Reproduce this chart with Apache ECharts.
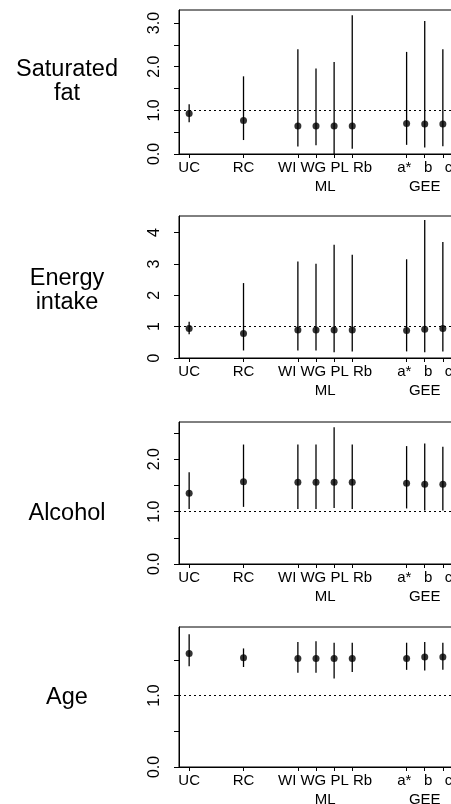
<!DOCTYPE html>
<html>
<head>
<meta charset="utf-8">
<script src="https://cdn.jsdelivr.net/npm/echarts@6/dist/echarts.min.js"></script>
<style>html,body{margin:0;padding:0;background:#fff;}#c{width:451px;height:804px;}</style>
</head>
<body>
<div id="c"></div>
<script>
// ---- data ----
const categories = ['UC', 'RC', 'WI', 'WG', 'PL', 'Rb', 'a*', 'b', 'c'];
const positions = [1, 4, 7, 8, 9, 10, 13, 14, 15];
// axis label rows (the original centres each method group under one label)
const xLabelPositions = [1, 4, 8.5, 14];
const xLabelTexts = ['UC', 'RC', 'WI WG PL Rb', 'a*   b   c'];
const xGroupTexts = ['', '', 'ML', 'GEE'];
const panelTitles = ['Saturated\nfat', 'Energy\nintake', 'Alcohol', 'Age'];

const satFatEst  = [0.93, 0.77, 0.64, 0.64, 0.64, 0.64, 0.70, 0.69, 0.69];
const satFatLow  = [0.73, 0.32, 0.17, 0.20, 0.00, 0.12, 0.21, 0.15, 0.18];
const satFatHigh = [1.14, 1.78, 2.40, 1.96, 2.11, 3.18, 2.34, 3.05, 2.40];

const energyEst  = [0.94, 0.78, 0.89, 0.89, 0.89, 0.89, 0.88, 0.92, 0.94];
const energyLow  = [0.76, 0.24, 0.24, 0.24, 0.18, 0.21, 0.21, 0.18, 0.21];
const energyHigh = [1.16, 2.39, 3.08, 3.01, 3.61, 3.29, 3.15, 4.40, 3.70];

const alcoholEst  = [1.35, 1.57, 1.56, 1.56, 1.56, 1.56, 1.54, 1.52, 1.52];
const alcoholLow  = [1.05, 1.09, 1.05, 1.05, 1.07, 1.05, 1.06, 1.02, 1.02];
const alcoholHigh = [1.75, 2.28, 2.28, 2.28, 2.61, 2.28, 2.25, 2.30, 2.24];

const ageEst  = [1.59, 1.53, 1.52, 1.52, 1.52, 1.52, 1.52, 1.54, 1.54];
const ageLow  = [1.41, 1.40, 1.32, 1.32, 1.24, 1.33, 1.36, 1.35, 1.36];
const ageHigh = [1.86, 1.66, 1.75, 1.76, 1.74, 1.74, 1.74, 1.75, 1.74];

const satFatTicks = [0, 0.5, 1, 1.5, 2, 2.5, 3];
const satFatLabels = [0, 1, 2, 3];
const energyTicks = [0, 1, 2, 3, 4];
const energyLabels = [0, 1, 2, 3, 4];
const alcoholTicks = [0, 0.5, 1, 1.5, 2, 2.5];
const alcoholLabels = [0, 1, 2];
const ageTicks = [0, 0.5, 1, 1.5];
const ageLabels = [0, 1];
const referenceValue = 1;

// ---- layout ----
const FONT = '"Liberation Sans", Arial, Helvetica, sans-serif';
const panels = [
  {title: panelTitles[0], est: satFatEst, low: satFatLow, high: satFatHigh, ticks: satFatTicks, labels: satFatLabels, digits: 1, max: 3.3, top: 10, height: 144, titleTop: 58},
  {title: panelTitles[1], est: energyEst, low: energyLow, high: energyHigh, ticks: energyTicks, labels: energyLabels, digits: 0, max: 4.53, top: 216, height: 142, titleTop: 267},
  {title: panelTitles[2], est: alcoholEst, low: alcoholLow, high: alcoholHigh, ticks: alcoholTicks, labels: alcoholLabels, digits: 1, max: 2.71, top: 422, height: 142, titleTop: 502},
  {title: panelTitles[3], est: ageEst, low: ageLow, high: ageHigh, ticks: ageTicks, labels: ageLabels, digits: 1, max: 1.96, top: 627, height: 140, titleTop: 686}
];

const grid = [], xAxis = [], yAxis = [], series = [], title = [];
const X_MIN = 0.44, X_MAX = 15.56;

panels.forEach((p, i) => {
  grid.push({left: 179, width: 274, top: p.top, height: p.height, outerBoundsMode: 'none', containLabel: false,
    show: true, borderColor: '#000', borderWidth: 1, backgroundColor: 'transparent'});
  title.push({
    text: p.title, left: 67, top: p.titleTop, textAlign: 'center', padding: 0,
    textStyle: {fontFamily: FONT, fontSize: 23.5, fontWeight: 'normal', color: '#000', lineHeight: 24}
  });
  xAxis.push({
    type: 'value', gridIndex: i, min: X_MIN, max: X_MAX, position: 'bottom',
    splitLine: {show: false},
    axisLine: {show: true, lineStyle: {color: '#000', width: 1}},
    axisTick: {show: true, length: 4, customValues: positions, lineStyle: {color: '#000'}},
    axisLabel: {
      customValues: xLabelPositions, margin: 5, color: '#000', fontFamily: FONT, fontSize: 15, lineHeight: 18.5,
      formatter: v => {
        const k = xLabelPositions.indexOf(v);
        if (k < 0) return '';
        return xGroupTexts[k] ? xLabelTexts[k] + '\n' + xGroupTexts[k] : xLabelTexts[k];
      }
    }
  });
  yAxis.push({
    type: 'value', gridIndex: i, min: 0, max: p.max,
    splitLine: {show: false},
    axisLine: {show: true, lineStyle: {color: '#000', width: 1}},
    axisTick: {show: true, length: 5, customValues: p.ticks, lineStyle: {color: '#000'}},
    axisLabel: {
      customValues: p.labels, rotate: 90, margin: 16, color: '#000', fontFamily: FONT, fontSize: 16,
      formatter: v => v.toFixed(p.digits)
    }
  });
  const bars = positions.map((x, k) => [x, p.low[k], p.high[k]]);
  const pts = positions.map((x, k) => [x, p.est[k]]);
  series.push({
    type: 'custom', xAxisIndex: i, yAxisIndex: i, data: bars, silent: true,
    encode: {x: 0, y: [1, 2]},
    renderItem: (params, api) => {
      const a = api.coord([api.value(0), api.value(1)]);
      const b = api.coord([api.value(0), api.value(2)]);
      return {type: 'line', shape: {x1: a[0], y1: a[1], x2: b[0], y2: b[1]}, style: {stroke: '#000', lineWidth: 1.3}};
    },
    z: 2
  });
  series.push({
    type: 'scatter', xAxisIndex: i, yAxisIndex: i, data: pts, symbol: 'circle', symbolSize: 7,
    itemStyle: {color: '#000'}, silent: true, z: 3,
    markLine: {
      silent: true, symbol: ['none', 'none'], label: {show: false},
      lineStyle: {color: '#000', type: [2, 3], width: 1},
      data: [{yAxis: referenceValue}]
    }
  });
});

const chart = echarts.init(document.getElementById('c'), null, {renderer: 'canvas'});
chart.setOption({animation: false, backgroundColor: '#fff', title, grid, xAxis, yAxis, series});
</script>
</body>
</html>
